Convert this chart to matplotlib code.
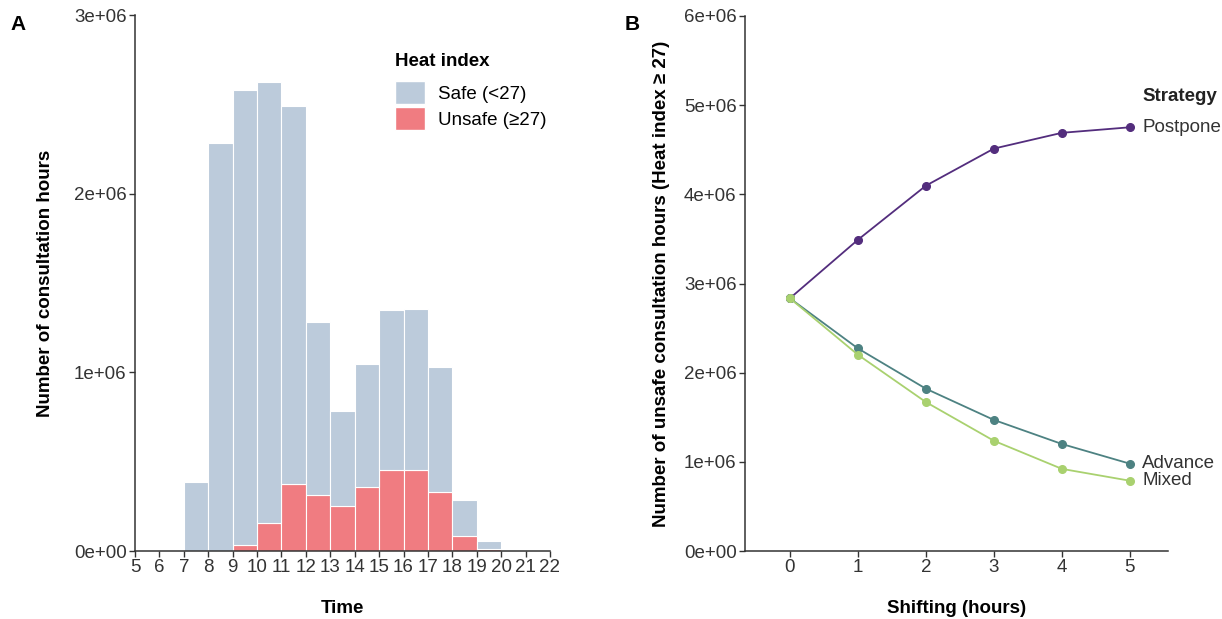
import numpy as np
import matplotlib
matplotlib.use('Agg')
import matplotlib.pyplot as plt
from matplotlib.patches import Patch

plt.rcParams['font.family'] = ['Liberation Sans', 'DejaVu Sans']

### Panel A data: consultation hours per hour of the day
hour_start = [7, 8, 9, 10, 11, 12, 13, 14, 15, 16, 17, 18, 19]
total_hours = [0.385e6, 2.285e6, 2.58e6, 2.626e6, 2.493e6, 1.28e6, 0.786e6,
               1.049e6, 1.35e6, 1.355e6, 1.029e6, 0.286e6, 0.058e6]
unsafe_hours = [0, 0, 0.031e6, 0.157e6, 0.374e6, 0.312e6, 0.252e6,
                0.359e6, 0.456e6, 0.456e6, 0.328e6, 0.082e6, 0.009e6]
safe_hours = [t - u for t, u in zip(total_hours, unsafe_hours)]

### Panel B data: unsafe hours by shifting strategy
shift_hours = [0, 1, 2, 3, 4, 5]
postpone = [2.834e6, 3.49e6, 4.097e6, 4.513e6, 4.69e6, 4.752e6]
advance = [2.834e6, 2.272e6, 1.82e6, 1.47e6, 1.2e6, 0.979e6]
mixed = [2.834e6, 2.201e6, 1.67e6, 1.236e6, 0.921e6, 0.788e6]

SAFE_COL = '#bccbdb'
UNSAFE_COL = '#f07c81'
POST_COL = '#532d7d'
ADV_COL = '#4d8282'
MIX_COL = '#a9d16f'
AXIS_COL = '#333333'
TXT_COL = '#333333'
FS = 13.5

fig = plt.figure(figsize=(12.22, 6.19), dpi=100)
ax1 = fig.add_axes([135/1222, 1-551/619, 415/1222, 536/619])
ax2 = fig.add_axes([745/1222, 1-551/619, 423/1222, 535/619])


def style_axis(ax):
    for s in ['top', 'right']:
        ax.spines[s].set_visible(False)
    for s in ['left', 'bottom']:
        ax.spines[s].set_color(AXIS_COL)
        ax.spines[s].set_linewidth(1.1)
    ax.tick_params(direction='out', length=4, width=1, color=AXIS_COL,
                   labelsize=FS, labelcolor=TXT_COL, pad=2)


def sci_fmt(v, pos):
    return '%de+06' % round(v/1e6) if v != 0 else '0e+00'


# Panel A: stacked bars (unsafe at bottom)
ax1.bar(hour_start, unsafe_hours, width=1, align='edge', color=UNSAFE_COL,
        edgecolor='white', linewidth=0.8)
ax1.bar(hour_start, safe_hours, width=1, align='edge', bottom=unsafe_hours,
        color=SAFE_COL, edgecolor='white', linewidth=0.8)
ax1.set_xlim(5, 22)
ax1.set_ylim(0, 3e6)
ax1.set_xticks(range(5, 23))
ax1.set_yticks([0, 1e6, 2e6, 3e6])
ax1.yaxis.set_major_formatter(plt.FuncFormatter(sci_fmt))
style_axis(ax1)
ax1.set_xlabel('Time', fontsize=FS, fontweight='bold', labelpad=17)
ax1.set_ylabel('Number of consultation hours', fontsize=FS,
               fontweight='bold', labelpad=14)
handles = [Patch(facecolor=SAFE_COL, edgecolor='white'),
           Patch(facecolor=UNSAFE_COL, edgecolor='white')]
leg = ax1.legend(handles, ['Safe (<27)', 'Unsafe (\u226527)'],
                 title='Heat index', loc='upper left',
                 bbox_to_anchor=(0.627, 0.93), frameon=False, fontsize=FS,
                 handlelength=1.6, handleheight=1.55, handletextpad=0.7,
                 labelspacing=0.15, borderaxespad=0, borderpad=0)
leg.get_title().set_fontweight('bold')
leg.get_title().set_fontsize(FS)
leg._legend_box.align = 'left'
leg._legend_box.sep = 8

# Panel B: lines
for vals, col, name in [(postpone, POST_COL, 'Postpone'),
                        (advance, ADV_COL, 'Advance'),
                        (mixed, MIX_COL, 'Mixed')]:
    ax2.plot(shift_hours, vals, color=col, linewidth=1.3, marker='o',
             markersize=5.5, clip_on=False)
    ax2.annotate(name, (shift_hours[-1], vals[-1]), xytext=(9, 0),
                 textcoords='offset points', va='center', ha='left',
                 fontsize=FS, color=TXT_COL, annotation_clip=False)
ax2.annotate('Strategy', (shift_hours[-1], postpone[-1]), xytext=(9, 22),
             textcoords='offset points', va='center', ha='left',
             fontsize=FS, fontweight='bold', color='#222222',
             annotation_clip=False)
ax2.set_xlim(-0.66, 5.56)
ax2.set_ylim(0, 6e6)
ax2.set_xticks(shift_hours)
ax2.set_yticks([0, 1e6, 2e6, 3e6, 4e6, 5e6, 6e6])
ax2.yaxis.set_major_formatter(plt.FuncFormatter(sci_fmt))
style_axis(ax2)
ax2.set_xlabel('Shifting (hours)', fontsize=FS, fontweight='bold',
               labelpad=17)
ax2.set_ylabel('Number of unsafe consultation hours (Heat index \u2265 27)',
               fontsize=FS, fontweight='bold', labelpad=10)

fig.text(10/1222, 1-24/619, 'A', fontsize=15, fontweight='bold', va='center')
fig.text(625/1222, 1-24/619, 'B', fontsize=15, fontweight='bold', va='center')

fig.savefig('out.png', dpi=100)
